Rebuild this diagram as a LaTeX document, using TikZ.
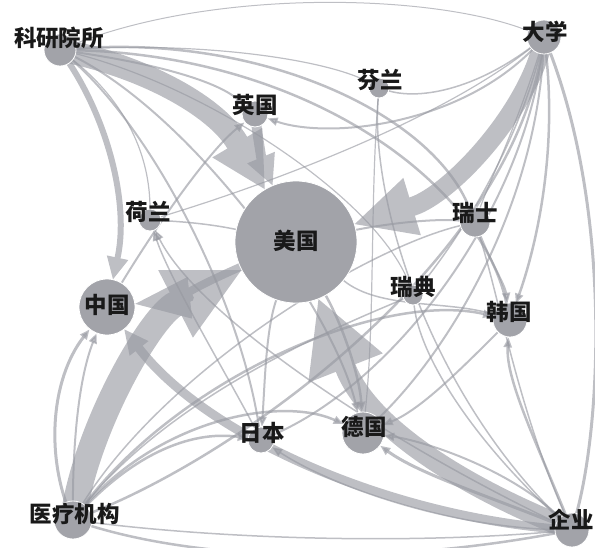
\documentclass[tikz,border=0pt]{standalone}
\usepackage{fontspec}
\newfontfamily\cjk{Noto Sans CJK SC}
\usetikzlibrary{arrows.meta}
\definecolor{edgec}{RGB}{150,152,160}
\definecolor{nodec}{RGB}{162,163,169}
\pgfdeclarelayer{edgelayer}
\pgfsetlayers{edgelayer,main}
\begin{document}
\begin{tikzpicture}[x=1pt,y=-1pt,
  hub/.style={circle,fill=nodec,draw=white,line width=0.8pt,inner sep=0pt},
  lab/.style={font=\cjk\bfseries\fontsize{22.5}{22.5}\selectfont,text=black!90,inner sep=0pt},
  band/.style={draw=edgec,line width=#1,line cap=round},
  ed/.style={draw=edgec,opacity=0.62,line width=#1},
  ed/.default=1.5,
  tip/.style={-{Triangle[length=10pt,width=8pt]}},
  grp/.style={transparency group,opacity=0.62}
]
\useasboundingbox (0,0) rectangle (595,547);
% hubs
\node[hub,minimum size=32pt] (KY) at (60,50) {};
\node[hub,minimum size=34pt] (DX) at (544,37) {};
\node[hub,minimum size=38pt] (YL) at (73,520) {};
\node[hub,minimum size=34pt] (QY) at (572,530) {};
\node[hub,minimum size=122pt] (US) at (296,242) {};
\node[hub,minimum size=26pt] (UK) at (255,114) {};
\node[hub,minimum size=20pt] (FI) at (379,88) {};
\node[hub,minimum size=22pt] (NL) at (150,220) {};
\node[hub,minimum size=30pt] (CH) at (475,222) {};
\node[hub,minimum size=56pt] (CN) at (107,307) {};
\node[hub,minimum size=20pt] (SE) at (413,295) {};
\node[hub,minimum size=34pt] (KR) at (510,320) {};
\node[hub,minimum size=26pt] (JP) at (261,440) {};
\node[hub,minimum size=42pt] (DE) at (363,433) {};
% labels
\node[lab] (KYl) at (59,38) {科研院所};
\node[lab] (DXl) at (545,32) {大学};
\node[lab] (YLl) at (75,514) {医疗机构};
\node[lab] (QYl) at (571,520) {企业};
\node[lab] (USl) at (296,241) {美国};
\node[lab] (UKl) at (255,105) {英国};
\node[lab] (FIl) at (380,80) {芬兰};
\node[lab] (NLl) at (148,212) {荷兰};
\node[lab] (CHl) at (475,213) {瑞士};
\node[lab] (CNl) at (107,305) {中国};
\node[lab] (SEl) at (413,287) {瑞典};
\node[lab] (KRl) at (509,312) {韩国};
\node[lab] (JPl) at (262,433) {日本};
\node[lab] (DEl) at (364,427) {德国};
\begin{pgfonlayer}{edgelayer}
% thin edges from KY
\draw[ed=1] (KY.center) .. controls (200,-12) and (430,-8) .. (DX);
\draw[ed=2.5] (KY.center) .. controls (250,30) and (430,110) .. (CH);
\draw[ed=2.5] (KY.center) .. controls (300,50) and (480,180) .. (KR);
\draw[ed=1.2] (KY.center) .. controls (200,40) and (330,60) .. (FI);
\draw[ed=2,tip] (KY.center) .. controls (150,62) and (215,80) .. (UK);
\draw[ed=1.2] (KY.center) .. controls (130,100) and (150,160) .. (NL);
\draw[ed=2] (KY.center) .. controls (150,120) and (240,300) .. (JP);
\draw[ed=2,tip] (KY.center) .. controls (180,100) and (330,300) .. (DE);
\draw[ed=1.2] (KY.center) .. controls (200,80) and (380,200) .. (SE);
% thin edges from DX
\draw[ed=1.5] (DX.center) .. controls (480,90) and (420,100) .. (FI);
\draw[ed=2,tip] (DX.center) .. controls (470,125) and (330,140) .. (UK);
\draw[ed=1.2] (DX.center) .. controls (450,120) and (250,190) .. (NL);
\draw[ed=1.2] (DX.center) .. controls (520,120) and (490,180) .. (CH);
\draw[ed=2.5,tip] (DX.center) .. controls (560,150) and (535,250) .. (KR);
\draw[ed=3] (DX.center) .. controls (612,200) and (602,420) .. (QY);
\draw[ed=2] (DX.center) .. controls (540,200) and (450,350) .. (DE);
\draw[ed=2] (DX.center) .. controls (530,200) and (400,380) .. (JP);
\draw[ed=2.5] (DX.center) .. controls (520,250) and (250,450) .. (YL);
\draw[ed=1.5] (DX.center) .. controls (520,150) and (450,250) .. (SE);
% thin edges from YL
\draw[ed=3,tip] (YL.center) .. controls (45,460) and (50,380) .. (CN);
\draw[ed=2,tip] (YL.center) .. controls (72,450) and (78,380) .. (CN);
\draw[ed=2.5,tip] (YL.center) .. controls (130,455) and (190,430) .. (JP);
\draw[ed=2.5,tip] (YL.center) .. controls (150,420) and (280,395) .. (DE);
\draw[ed=1.5] (YL.center) .. controls (160,400) and (330,330) .. (SE);
\draw[ed=2.5,tip] (YL.center) .. controls (170,380) and (380,290) .. (KR);
\draw[ed=1.5] (YL.center) .. controls (150,380) and (360,250) .. (CH);
% thin edges from QY
\draw[ed=3,tip] (QY.center) .. controls (500,500) and (420,475) .. (DE);
\draw[ed=2,tip] (QY.center) .. controls (520,470) and (420,440) .. (DE);
\draw[ed=1.5,tip] (QY.center) .. controls (450,530) and (330,485) .. (JP);
\draw[ed=2.5,tip] (QY.center) .. controls (540,450) and (505,380) .. (KR);
\draw[ed=1.5] (QY.center) .. controls (480,450) and (420,360) .. (SE);
\draw[ed=1.5] (QY.center) .. controls (520,420) and (500,300) .. (CH);
\draw[ed=1.5] (QY.center) .. controls (430,400) and (370,200) .. (FI);
\draw[ed=2.5] (QY.center) .. controls (400,565) and (200,565) .. (YL.center);
\draw[ed=1.5] (QY.center) .. controls (420,545) and (220,540) .. (YL.center);
\draw[ed=1.5,tip] (QY.center) .. controls (400,450) and (200,320) .. (NL);
% others
\draw[ed=1.5] (NL) .. controls (190,222) and (215,225) .. (US);
\draw[ed=2,tip] (CN) .. controls (160,220) and (210,150) .. (UK);
\draw[ed=2,tip] (CH) .. controls (490,260) and (505,285) .. (KR);
\draw[ed=2,tip] (KR) .. controls (460,370) and (420,410) .. (DE);
\draw[ed=2] (US) .. controls (380,225) and (430,218) .. (CH);
\draw[ed=1.5] (US) .. controls (380,310) and (450,300) .. (KR);
\draw[ed=2,tip] (US) .. controls (266,330) and (265,380) .. (JP);
\draw[ed=2.5,tip] (US) .. controls (345,330) and (360,380) .. (DE);
\draw[ed=1.2] (FI) .. controls (370,200) and (375,320) .. (DE);
\draw[ed=1.5,tip] (JP) .. controls (230,380) and (170,280) .. (NL);
% bands
\begin{scope}[grp]
\draw[band=23,-{Triangle[length=54pt,width=58pt,line width=0pt]}] (KY.center) .. controls (140,65) and (215,105) .. (US);
\end{scope}
\begin{scope}[grp]
\draw[band=10,-{Triangle[length=30pt,width=30pt,line width=0pt]}] (UK.center) .. controls (258,140) and (262,160) .. (US);
\end{scope}
\begin{scope}[grp]
\draw[band=19,-{Triangle[length=60pt,width=60pt,line width=0pt]}] (DX.center) .. controls (530,110) and (450,195) .. (US);
\end{scope}
\begin{scope}[grp]
\draw[band=26,-{Triangle[length=74pt,width=76pt,line width=0pt]}] (YL.center) .. controls (85,430) and (150,317) .. (US);
\end{scope}
\begin{scope}[grp]
\draw[band=21,-{Triangle[length=74pt,width=80pt,line width=0pt]}] (QY.center) .. controls (470,490) and (370,430) .. (US);
\end{scope}
\begin{scope}[grp]
\draw[band=9,-{Triangle[length=24pt,width=24pt,line width=0pt]}] (QY.center) .. controls (400,520) and (210,440) .. (CN);
\end{scope}
\begin{scope}[grp]
\draw[band=6,-{Triangle[length=22pt,width=22pt,line width=0pt]}] (KY.center) .. controls (105,110) and (130,200) .. (CN);
\end{scope}
\begin{scope}[grp]
\draw[band=8,-{Triangle[length=55pt,width=42pt,line width=0pt]}] (US) .. controls (200,285) and (170,300) .. (CN);
\end{scope}
\end{pgfonlayer}
\end{tikzpicture}
\end{document}
